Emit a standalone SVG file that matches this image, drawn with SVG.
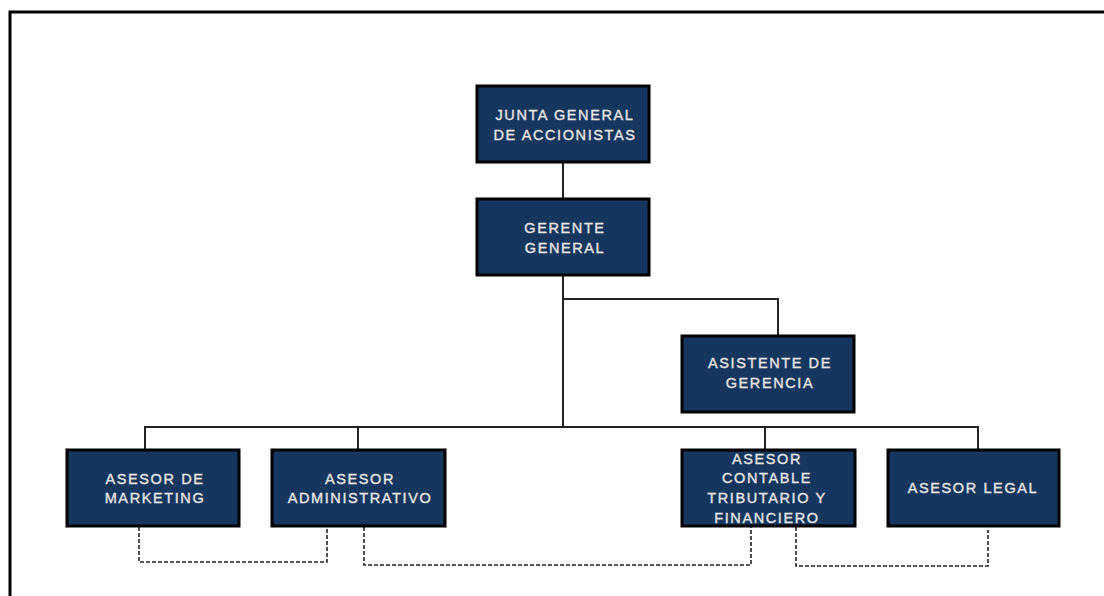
<svg xmlns="http://www.w3.org/2000/svg" width="1104" height="596" viewBox="0 0 1104 596">
<style>
.box{fill:#17365d;stroke:#000;stroke-width:3}
.t{font-family:"Liberation Sans",Arial,sans-serif;font-size:14.5px;fill:#e6e6e6;stroke:#e6e6e6;stroke-width:0.35;text-anchor:middle;letter-spacing:1.6px}
.c{fill:none;stroke:#222;stroke-width:2}
.d{fill:none;stroke:#222;stroke-width:1.6;stroke-dasharray:4 2}
</style>
<rect width="1104" height="596" fill="#fff"/>
<path d="M10,596 V12 H1104" fill="none" stroke="#000" stroke-width="3"/>
<g id="connectors">
<path class="c" d="M563,163 V198"/>
<path class="c" d="M563,276 V427"/>
<path class="c" d="M563,299 H778 V336"/>
<path class="c" d="M145,449 V427 H978 V449"/>
<path class="c" d="M358,427 V449"/>
<path class="c" d="M765,427 V449"/>
<path class="d" d="M139,527 V562 H327 V527"/>
<path class="d" d="M364,527 V565 H751 V527"/>
<path class="d" d="M796,527 V566 H988 V530"/>
</g>
<g id="junta">
<rect class="box" x="477" y="86" width="172" height="76"/>
<text class="t" x="565" y="120">JUNTA GENERAL</text>
<text class="t" x="565" y="140">DE ACCIONISTAS</text>
</g>
<g id="gerente">
<rect class="box" x="477" y="199" width="172" height="76"/>
<text class="t" x="565" y="233">GERENTE</text>
<text class="t" x="565" y="253">GENERAL</text>
</g>
<g id="asistente">
<rect class="box" x="682" y="336" width="172" height="76"/>
<text class="t" x="770" y="368">ASISTENTE DE</text>
<text class="t" x="770" y="388">GERENCIA</text>
</g>
<g id="marketing">
<rect class="box" x="67" y="450" width="172" height="76"/>
<text class="t" x="155" y="484">ASESOR DE</text>
<text class="t" x="155" y="503">MARKETING</text>
</g>
<g id="administrativo">
<rect class="box" x="272" y="450" width="173" height="76"/>
<text class="t" x="360" y="484">ASESOR</text>
<text class="t" x="360" y="503">ADMINISTRATIVO</text>
</g>
<g id="contable">
<rect class="box" x="682" y="450" width="173" height="76"/>
<text class="t" x="767" y="464">ASESOR</text>
<text class="t" x="767" y="483">CONTABLE</text>
<text class="t" x="767" y="503">TRIBUTARIO Y</text>
<text class="t" x="767" y="523">FINANCIERO</text>
</g>
<g id="legal">
<rect class="box" x="888" y="450" width="171" height="76"/>
<text class="t" x="973" y="493">ASESOR LEGAL</text>
</g>
</svg>
